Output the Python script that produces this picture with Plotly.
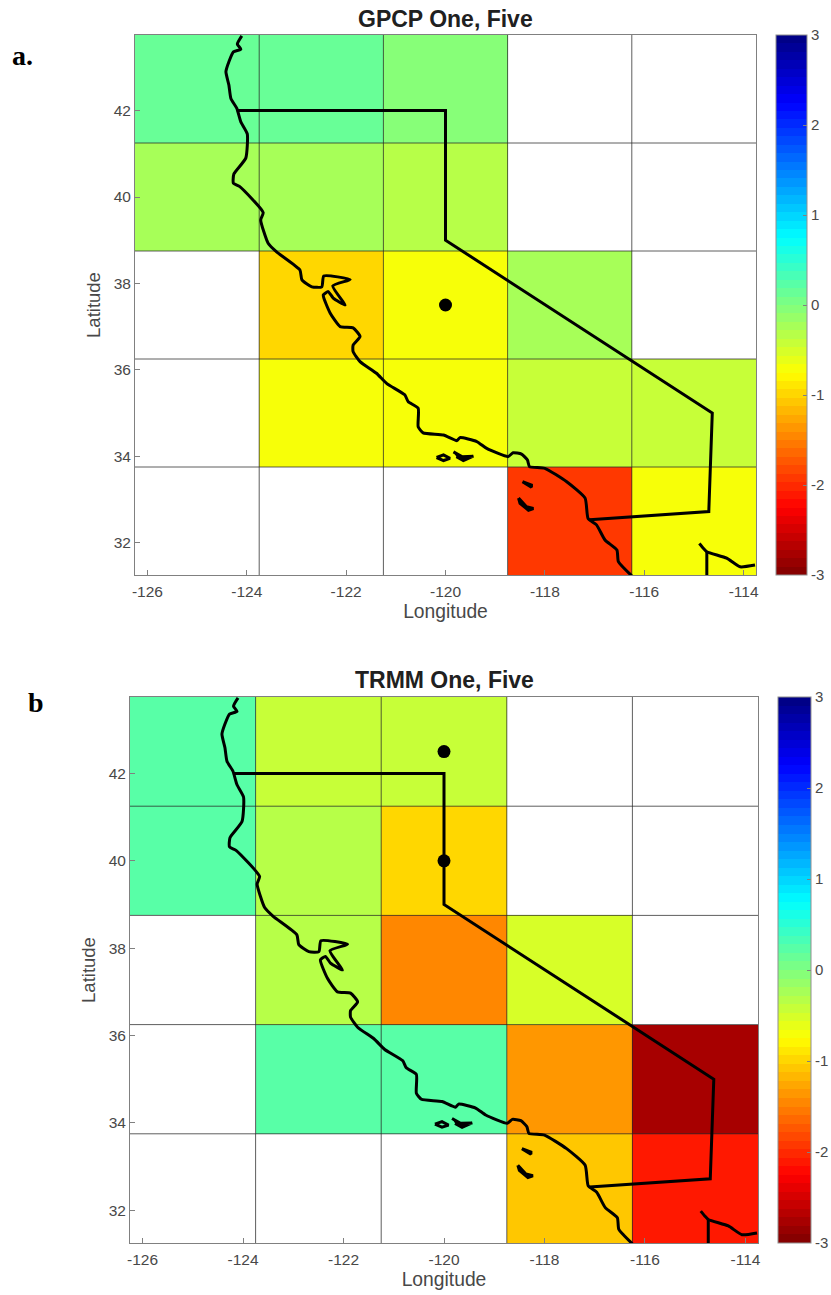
import plotly.graph_objects as go

W, H = 831, 1295

lon_edges = [-126.25, -123.75, -121.25, -118.75, -116.25, -113.75]
lat_edges = [31.25, 33.75, 36.25, 38.75, 41.25, 43.75]
lon_ticks = [-126, -124, -122, -120, -118, -116, -114]
lat_ticks = [32, 34, 36, 38, 40, 42]
cbar_ticks = [-3, -2, -1, 0, 1, 2, 3]

# rows run south to north
gpcp_z = [
    [None, None, None, -1.965, -0.66],
    [None, -0.66, -0.66, -0.42, -0.42],
    [None, -0.975, -0.66, -0.225, None],
    [-0.225, -0.225, -0.285, None, None],
    [0.15, 0.15, -0.05, None, None],
]
trmm_z = [
    [None, None, None, -1.05, -2.13],
    [None, 0.2, 0.25, -1.32, -2.745],
    [None, -0.3, -1.425, -0.56, None],
    [0.2, -0.33, -1.0, None, None],
    [0.2, -0.42, -0.42, None, None],
]
gpcp_lon = [-120]
gpcp_lat = [37.5]
trmm_lon = [-120, -120]
trmm_lat = [42.5, 40]

coast_lon = [-124.10, -124.19, -124.12, -124.27, -124.36, -124.42, -124.36, -124.32, -124.20, -124.12,
             -123.99, -124.02, -124.26, -124.27, -124.14, -123.67, -123.72, -123.57, -123.40, -122.93,
             -122.89, -122.69, -122.49, -122.45, -121.92, -122.27, -122.02, -122.26, -122.36, -122.46,
             -122.32, -122.12, -121.86, -121.72, -121.86, -121.86, -121.72, -121.39, -121.18, -120.82,
             -120.75, -120.55, -120.55, -120.45, -120.04, -119.77, -119.71, -119.37, -119.17, -118.74,
             -118.64, -118.47, -118.35, -118.31, -118.00, -117.56, -117.19, -117.13, -116.96, -116.79,
             -116.55, -116.52, -116.25]
coast_lat = [43.73, 43.54, 43.42, 43.36, 43.13, 42.90, 42.59, 42.28, 42.05, 41.74,
             41.46, 40.90, 40.53, 40.32, 40.24, 39.64, 39.47, 38.93, 38.73, 38.31,
             38.08, 37.92, 37.92, 38.17, 38.09, 37.94, 37.50, 37.66, 37.81, 37.73,
             37.31, 37.00, 36.97, 36.77, 36.57, 36.42, 36.19, 35.92, 35.68, 35.42,
             35.26, 35.11, 34.68, 34.54, 34.49, 34.36, 34.43, 34.34, 34.18, 33.99,
             34.08, 34.05, 33.91, 33.76, 33.72, 33.41, 33.03, 32.56, 32.41, 32.06,
             31.83, 31.56, 31.23]
gulf_lon = [-114.89, -114.81, -114.74, -114.34, -114.07, -113.77]
gulf_lat = [31.98, 31.87, 31.79, 31.64, 31.44, 31.48]
river_lon = [-114.74, -114.74]
river_lat = [31.79, 31.23]
border_lon = [-124.20, -120.0, -120.0, -114.63, -114.70, -117.10]
border_lat = [42.0, 42.0, 39.0, 35.0, 32.72, 32.53]
island1_lon = [-120.18, -120.04, -119.91, -120.04, -120.18]
island1_lat = [33.97, 34.03, 33.95, 33.90, 33.97]
island2_lon = [-119.84, -119.67, -119.44, -119.64, -119.78]
island2_lat = [34.10, 33.99, 34.00, 33.90, 33.99]
island3_lon = [-118.45, -118.27, -118.27, -118.40, -118.45]
island3_lat = [33.41, 33.33, 33.28, 33.37, 33.41]
island4_lon = [-118.53, -118.37, -118.23, -118.33, -118.50, -118.53]
island4_lat = [33.03, 32.83, 32.79, 32.75, 32.91, 33.03]

smooth_lines = [(coast_lon, coast_lat), (gulf_lon, gulf_lat)]
straight_lines = [(river_lon, river_lat), (border_lon, border_lat), (island1_lon, island1_lat)]
filled_islands = [(island2_lon, island2_lat), (island3_lon, island3_lat), (island4_lon, island4_lat)]


def jet(t):
    def c(v):
        return max(0.0, min(1.0, v))
    return (c(1.5 - abs(4 * t - 3)), c(1.5 - abs(4 * t - 2)), c(1.5 - abs(4 * t - 1)))


# 64-level reversed jet
N = 64
scale = []
for i in range(N):
    r, g, b = jet(1 - (i + 0.5) / N)
    col = f"rgb({round(r*255)},{round(g*255)},{round(b*255)})"
    scale.append([i / N, col])
    scale.append([(i + 1) / N, col])

fig = go.Figure()
TICK = "#484848"
FONT = "Liberation Sans"


def panel(idx, z, dots_x, dots_y, left, right, top, bottom, cb_left, cb_w, title, title_y):
    sfx = "" if idx == 1 else str(idx)
    xa, ya = f"x{sfx}", f"y{sfx}"
    fig.add_trace(go.Heatmap(
        x=lon_edges, y=lat_edges, z=z, xaxis=xa, yaxis=ya,
        colorscale=scale, zmin=-3, zmax=3, hoverongaps=False,
        colorbar=dict(
            x=cb_left / W, xanchor="left", xref="paper", xpad=0, ypad=0,
            y=1 - bottom / H, yanchor="bottom", yref="paper",
            len=(bottom - top) / H, lenmode="fraction",
            thickness=cb_w, thicknessmode="pixels",
            tickmode="array", tickvals=cbar_ticks, ticktext=[str(v) for v in cbar_ticks],
            ticks="inside", ticklen=4, tickcolor="#808080", tickwidth=1,
            outlinecolor="#909090", outlinewidth=1,
            tickfont=dict(family=FONT, size=15, color=TICK),
        ),
    ))
    for lo in lon_edges[1:-1]:
        fig.add_trace(go.Scatter(x=[lo, lo], y=[lat_edges[0], lat_edges[-1]], mode="lines", xaxis=xa, yaxis=ya,
                                 line=dict(color="rgba(40,40,40,0.75)", width=1), showlegend=False, hoverinfo="skip"))
    for la in lat_edges[1:-1]:
        fig.add_trace(go.Scatter(x=[lon_edges[0], lon_edges[-1]], y=[la, la], mode="lines", xaxis=xa, yaxis=ya,
                                 line=dict(color="rgba(40,40,40,0.75)", width=1), showlegend=False, hoverinfo="skip"))
    for lx, ly in smooth_lines:
        fig.add_trace(go.Scatter(x=lx, y=ly, mode="lines", xaxis=xa, yaxis=ya,
                                 line=dict(color="black", width=3, shape="spline", smoothing=0.5),
                                 showlegend=False, hoverinfo="skip"))
    for lx, ly in straight_lines:
        fig.add_trace(go.Scatter(x=lx, y=ly, mode="lines", xaxis=xa, yaxis=ya,
                                 line=dict(color="black", width=3), showlegend=False, hoverinfo="skip"))
    for lx, ly in filled_islands:
        fig.add_trace(go.Scatter(x=lx, y=ly, mode="lines", xaxis=xa, yaxis=ya, fill="toself", fillcolor="black",
                                 line=dict(color="black", width=3), showlegend=False, hoverinfo="skip"))
    fig.add_trace(go.Scatter(x=dots_x, y=dots_y, mode="markers", xaxis=xa, yaxis=ya,
                             marker=dict(color="black", size=13), showlegend=False, hoverinfo="skip"))
    common = dict(showgrid=False, zeroline=False, showline=True, mirror=True, linecolor="#808080", linewidth=1,
                  ticks="inside", ticklen=5, tickcolor="#808080",
                  tickfont=dict(family=FONT, size=15.5, color=TICK))
    fig.update_layout({
        f"xaxis{sfx}": dict(domain=[left / W, right / W], range=[lon_edges[0], lon_edges[-1]],
                            tickmode="array", tickvals=lon_ticks, ticktext=[str(v) for v in lon_ticks],
                            ticklabelstandoff=2,
                            title=dict(text="Longitude", font=dict(family=FONT, size=19.3, color=TICK), standoff=5),
                            anchor=ya, **common),
        f"yaxis{sfx}": dict(domain=[1 - bottom / H, 1 - top / H], range=[lat_edges[0], lat_edges[-1]],
                            tickmode="array", tickvals=lat_ticks, ticktext=[str(v) for v in lat_ticks],
                            title=dict(text="Latitude", font=dict(family=FONT, size=18.5, color=TICK), standoff=8),
                            anchor=xa, **common),
    })
    fig.add_annotation(text=f"<b>{title}</b>", x=(left + right) / 2 / W, y=1 - title_y / H, xref="paper", yref="paper",
                       showarrow=False, xanchor="center", yanchor="middle",
                       font=dict(family=FONT, size=23, color="#202020"))


panel(1, gpcp_z, gpcp_lon, gpcp_lat, 135, 756, 35, 575, 776, 31, "GPCP One, Five", 19)
panel(2, trmm_z, trmm_lon, trmm_lat, 130, 758, 697, 1243, 778, 33, "TRMM One, Five", 680)

fig.add_annotation(text="<b>a.</b>", x=10 / W, y=1 - 55 / H, xref="paper", yref="paper", showarrow=False,
                   xanchor="left", yanchor="middle", font=dict(family="Liberation Serif", size=28, color="black"))
fig.add_annotation(text="<b>b</b>", x=26 / W, y=1 - 702 / H, xref="paper", yref="paper", showarrow=False,
                   xanchor="left", yanchor="middle", font=dict(family="Liberation Serif", size=28, color="black"))

fig.update_layout(width=W, height=H, margin=dict(l=0, r=0, t=0, b=0, autoexpand=False), paper_bgcolor="white",
                  plot_bgcolor="white", showlegend=False, font=dict(family=FONT))
fig.write_html("out.html", post_script="document.body.style.margin='0';", config={"displayModeBar": False})
